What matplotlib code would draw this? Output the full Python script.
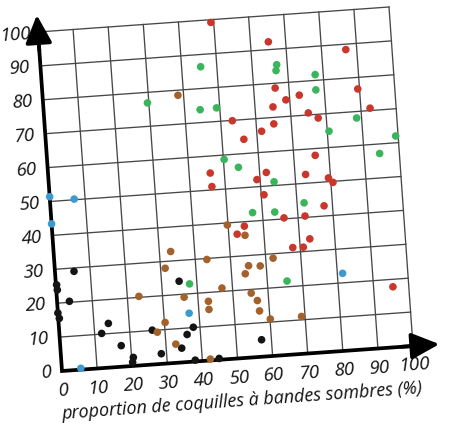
import matplotlib
matplotlib.use("Agg")
import matplotlib.pyplot as plt
from matplotlib.transforms import Affine2D

plt.rcParams["font.family"] = ["Open Sans", "DejaVu Sans"]

# proportion de coquilles à bandes sombres (%) / ordonnée (%), par groupe
noir_x = [0.2, 0.3, 0.0, 0.3, 3.5, 5.4, 12.0, 14.1, 17.3, 20.5, 20.2, 26.4, 28.5,
          34.4, 36.2, 38.1, 35.0, 38.0, 44.8, 57.2]
noir_y = [25.4, 23.9, 17.1, 15.5, 20.3, 29.0, 10.2, 13.0, 6.2, 2.5, 1.1, 10.1, 3.0,
          4.2, 8.1, 10.1, 23.9, 0.4, 0.4, 5.0]

bleu_x = [0.0, 6.9, 0.0, 5.4, 37.2, 81.5]
bleu_y = [51.4, 50.2, 43.4, 0.4, 14.3, 22.8]

brun_x = [38.4, 49.8, 54.6, 33.2, 43.3, 31.3, 62.1, 55.0, 58.3, 53.9, 47.0, 36.1,
          55.2, 56.8, 42.9, 42.9, 57.2, 60.1, 69.0, 30.2, 27.8, 32.8, 42.3, 23.3]
brun_y = [78.5, 39.4, 36.0, 32.8, 29.7, 28.0, 28.7, 27.0, 26.7, 24.7, 21.0, 19.1,
          18.9, 16.6, 17.4, 15.0, 13.5, 10.9, 11.0, 12.1, 9.4, 5.5, 0.4, 20.3]

vert_x = [45.4, 67.0, 66.7, 77.7, 77.6, 29.6, 44.4, 49.1, 88.6, 80.5, 99.3, 94.4,
          50.2, 54.1, 63.9, 72.0, 57.2, 63.5, 37.9, 65.6]
vert_y = [86.4, 85.4, 83.7, 81.7, 77.2, 76.9, 73.8, 74.0, 68.1, 64.8, 62.0, 57.2,
          58.7, 56.1, 51.1, 44.3, 42.5, 42.2, 22.9, 21.7]

rouge_x = [49.2, 65.1, 86.9, 66.1, 68.9, 72.8, 65.1, 75.0, 77.7, 89.5, 92.6, 53.3,
           65.0, 61.4, 56.2, 76.1, 46.0, 46.2, 61.9, 59.1, 73.0, 79.4, 80.6, 60.8,
           77.6, 66.0, 72.0, 54.6, 52.4, 72.9, 67.9, 70.9, 95.5]
rouge_y = [99.2, 92.3, 88.4, 78.6, 74.9, 76.0, 73.1, 70.6, 68.9, 76.6, 70.7, 69.9,
           68.1, 66.2, 64.2, 58.0, 55.0, 51.0, 54.0, 52.1, 52.6, 51.1, 49.7, 47.5,
           43.0, 40.3, 40.4, 38.7, 36.5, 33.6, 31.4, 31.3, 17.8]

ticks = list(range(0, 101, 10))
xlabel = "proportion de coquilles à bandes sombres (%)"

fig = plt.figure(figsize=(4.66, 4.31), dpi=100, facecolor="white")
ax = fig.add_axes([0, 0, 1, 1])
ax.set_xlim(0, 466)
ax.set_ylim(431, 0)
ax.axis("off")

# la page est photographiée un peu de travers : repère incliné
T = Affine2D.from_values(3.51, -0.25, -0.24, -3.39, 62, 372) + ax.transData
angle = 4.1

# quadrillage
for v in ticks[1:]:
    ax.plot([v, v], [0, 100], color="#474747", lw=0.95, transform=T, zorder=1)
    ax.plot([0, 100], [v, v], color="#474747", lw=0.95, transform=T, zorder=1)

# axes avec flèches
ax.plot([0, 0, 103], [103, 0, 0], color="black", lw=2.7, transform=T,
        solid_joinstyle="miter", zorder=2)
for tip in [(0, 105), (107.5, 0)]:
    start = (tip[0] * 0.9, tip[1] * 0.9)
    ax.annotate("", xy=tip, xytext=start, xycoords=T, textcoords=T,
                arrowprops=dict(arrowstyle="-|>,head_length=0.95,head_width=0.45",
                                color="black", lw=2.7, mutation_scale=18,
                                shrinkA=0, shrinkB=0), zorder=2)

# points
groupes = [
    (noir_x, noir_y, "#141414"),
    (bleu_x, bleu_y, "#3b9bd0"),
    (brun_x, brun_y, "#a3622b"),
    (vert_x, vert_y, "#3bb55c"),
    (rouge_x, rouge_y, "#c9362c"),
]
for xs, ys, c in groupes:
    ax.scatter(xs, ys, s=30, color=c, edgecolors="none", transform=T, zorder=3)

# graduations
for v in ticks:
    ax.text(v, -5.4, str(v), transform=T, ha="center", va="center",
            rotation=angle, rotation_mode="anchor", fontsize=13.5,
            style="italic", color="#111111")
    ax.text(-2.0 if v == 100 else -3.0, v, str(v), transform=T, ha="right",
            va="center", rotation=angle, rotation_mode="anchor", fontsize=13.5,
            style="italic", color="#111111")

ax.text(50.5, -12.2, xlabel, transform=T, ha="center", va="center",
        rotation=angle, rotation_mode="anchor", fontsize=12.9,
        style="italic", color="#111111")

fig.savefig("out.png", dpi=100, facecolor="white")
